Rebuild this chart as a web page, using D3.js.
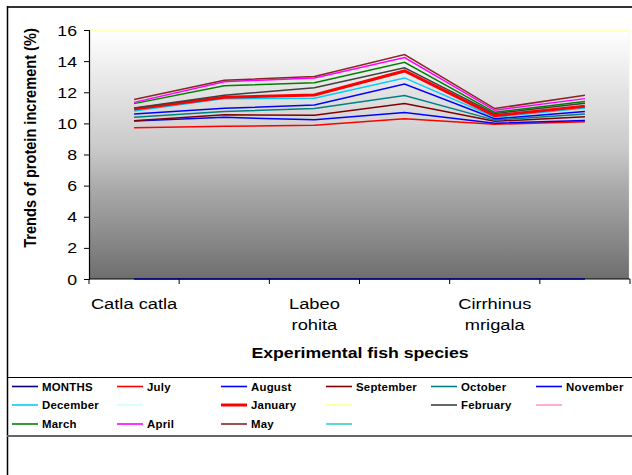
<!DOCTYPE html>
<html><head><meta charset="utf-8">
<script src="https://cdn.jsdelivr.net/npm/d3@7"></script>
<style>html,body{margin:0;padding:0;background:#fff;}svg{display:block;}</style>
</head><body>
<svg id="c" width="632" height="475"></svg>
<script>
// ---- data ----
const categories = ["Catla catla", "", "Labeo rohita", "", "Cirrhinus mrigala", ""];
const categoryLines = [["Catla catla"], [], ["Labeo", "rohita"], [], ["Cirrhinus", "mrigala"], []];
const yTicks = [0, 2, 4, 6, 8, 10, 12, 14, 16];
const seriesNames = ["MONTHS", "July", "August", "September", "October", "November",
  "December", "", "January", "", "February", "", "March", "April", "May", ""];
const months    = [0, 0, 0, 0, 0, 0];
const july      = [9.72, 9.81, 9.88, 10.30, 9.94, 10.11];
const august    = [10.15, 10.39, 10.23, 10.70, 10.01, 10.18];
const september = [10.17, 10.55, 10.52, 11.28, 10.13, 10.42];
const october   = [10.39, 10.77, 10.95, 11.79, 10.21, 10.61];
const november  = [10.60, 10.97, 11.18, 12.53, 10.30, 10.77];
const december  = [10.80, 11.59, 11.61, 12.92, 10.40, 10.98];
const january   = [10.92, 11.68, 11.83, 13.37, 10.50, 11.10];
const february  = [10.99, 11.81, 12.29, 13.57, 10.63, 11.29];
const march     = [11.27, 12.41, 12.61, 13.92, 10.71, 11.40];
const april     = [11.35, 12.68, 12.92, 14.23, 10.84, 11.59];
const may       = [11.53, 12.77, 13.01, 14.42, 10.95, 11.81];
const seriesValues = [months, july, august, september, october, november,
  december, null, january, null, february, null, march, april, may, null];
const seriesColors = ["#000080", "#FF0000", "#0000FF", "#800000", "#008080", "#0000FF",
  "#00CCFF", "#CCFFFF", "#FF0000", "#FFFF99", "#404040", "#FF99CC", "#008000", "#FF00FF", "#8B2525", "#33CCCC"];
const seriesWidths = [1.5, 1.5, 1.5, 1.5, 1.5, 1.5, 1.5, 1.5, 3, 1.5, 1.5, 1.5, 1.5, 1.5, 1.5, 1.5];

// ---- layout ----
const svg = d3.select("#c");
const font = "'Liberation Sans', Arial, sans-serif";
const SX = 1.18;
const plot = {l: 89, r: 630, t: 30, b: 279};

function stext(g, x, y, str, size, weight, anchor, sx) {
  return g.append("text")
    .attr("transform", `translate(${x},${y}) scale(${sx || SX},1)`)
    .attr("font-family", font).attr("font-size", size)
    .attr("font-weight", weight || "normal")
    .attr("text-anchor", anchor || "start")
    .attr("fill", "#000").text(str);
}

// outer frame
svg.append("line").attr("x1", 7).attr("x2", 632).attr("y1", 7).attr("y2", 7).attr("stroke", "#333").attr("stroke-width", 2);
svg.append("line").attr("x1", 7.5).attr("x2", 7.5).attr("y1", 6).attr("y2", 475).attr("stroke", "#000").attr("stroke-width", 1.5);

// gradient
const defs = svg.append("defs");
const grad = defs.append("linearGradient").attr("id", "bg").attr("x1", 0).attr("y1", 0).attr("x2", 0).attr("y2", 1);
[[0, "#ffffff"], [0.48, "#c9c9c9"], [0.63, "#ababab"], [0.88, "#828282"], [1, "#6e6e6e"]]
  .forEach(s => grad.append("stop").attr("offset", s[0]).attr("stop-color", s[1]));

const x = d3.scaleBand().domain(d3.range(categories.length)).range([plot.l, plot.r]);
const y = d3.scaleLinear().domain([0, 16]).range([plot.b, plot.t]);

svg.append("rect").attr("x", plot.l).attr("y", plot.t).attr("width", plot.r - plot.l).attr("height", plot.b - plot.t)
  .attr("fill", "url(#bg)");
// light yellow border top/right
svg.append("path").attr("d", `M${plot.l},${plot.t + 0.5}H${plot.r - 0.5}V${plot.b}`)
  .attr("fill", "none").attr("stroke", "#ffffc0").attr("stroke-width", 1.2);

// y axis
const yAxis = d3.axisLeft(y).tickValues(yTicks).tickSize(5).tickFormat(d3.format("d"));
const gy = svg.append("g").attr("transform", `translate(${plot.l},0)`).call(yAxis);
gy.select(".domain").attr("stroke", "#000").attr("stroke-width", 1.2);
gy.selectAll(".tick line").attr("stroke", "#000");
gy.selectAll(".tick text").remove();
yTicks.forEach(t => stext(svg, 77, y(t) + 5.5, String(t), 15, "normal", "end"));

// x axis: ticks at band boundaries
const bounds = x.domain().map(i => x(i)).concat([plot.r]);
const gx = svg.append("g");
gx.append("line").attr("x1", plot.l).attr("x2", plot.r).attr("y1", plot.b).attr("y2", plot.b).attr("stroke", "#000").attr("stroke-width", 1.2);
gx.selectAll("line.tk").data(bounds).enter().append("line").attr("class", "tk")
  .attr("x1", d => d).attr("x2", d => d).attr("y1", plot.b).attr("y2", plot.b + 5).attr("stroke", "#000");
categoryLines.forEach((lines, i) => {
  lines.forEach((ln, j) => stext(svg, x(i) + x.bandwidth() / 2, 309 + j * 21, ln, 15.5, "normal", "middle"));
});

// lines
const line = d3.line().x((d, i) => x(i) + x.bandwidth() / 2).y(d => y(d));
seriesValues.forEach((vals, k) => {
  if (!vals) return;
  svg.append("path").datum(vals).attr("d", line).attr("fill", "none")
    .attr("stroke", seriesColors[k]).attr("stroke-width", seriesWidths[k])
    .attr("stroke-linejoin", "miter");
});

// axis titles
stext(svg, 360, 358, "Experimental fish species", 15, "bold", "middle");
svg.append("text").attr("transform", "translate(36,138) scale(1.18,1) rotate(-90)")
  .attr("font-family", font).attr("font-size", 14.6).attr("font-weight", "bold")
  .attr("text-anchor", "middle").text("Trends of protein increment (%)");

// legend
svg.append("line").attr("x1", 7).attr("x2", 632).attr("y1", 377.5).attr("y2", 377.5).attr("stroke", "#000").attr("stroke-width", 1);
svg.append("line").attr("x1", 7).attr("x2", 632).attr("y1", 436).attr("y2", 436).attr("stroke", "#666").attr("stroke-width", 2);
const colX = [12, 117, 221, 326, 431, 536];
const rowY = [386.5, 405, 424];
seriesNames.forEach((name, k) => {
  const cx = colX[k % 6], cy = rowY[Math.floor(k / 6)];
  svg.append("line").attr("x1", cx).attr("x2", cx + 26).attr("y1", cy).attr("y2", cy)
    .attr("stroke", seriesColors[k]).attr("stroke-width", seriesWidths[k] === 3 ? 3 : 1.6);
  if (name) stext(svg, cx + 30, cy + 4, name, 10.2, "bold", "start", 1.12).attr("letter-spacing", 0.2);
});
</script>
</body></html>
